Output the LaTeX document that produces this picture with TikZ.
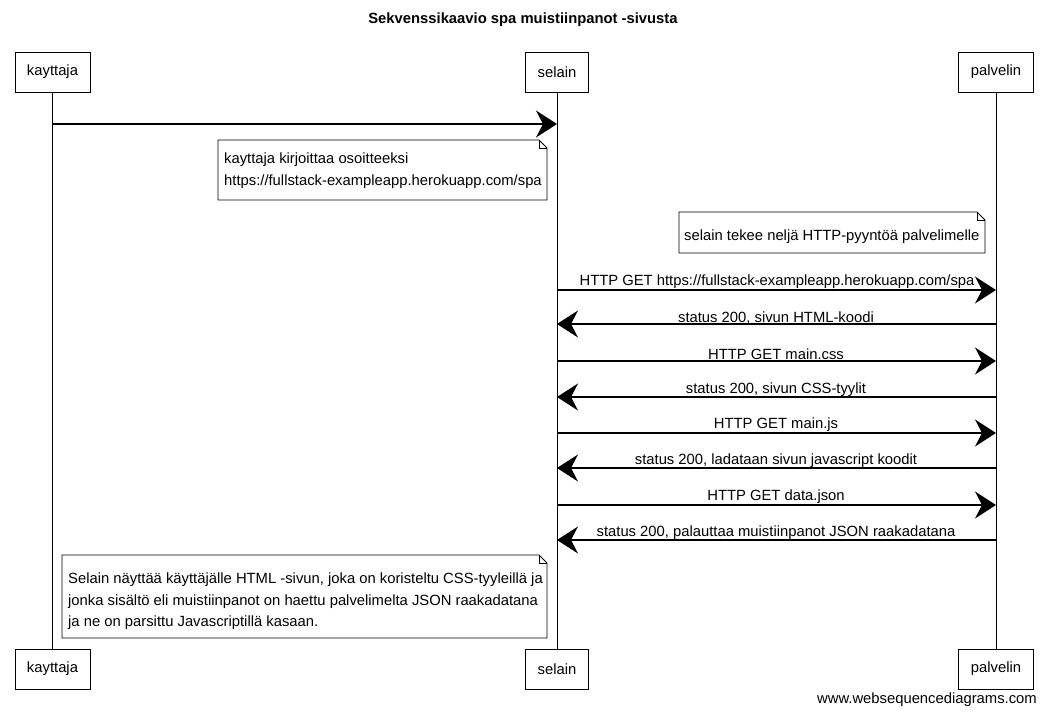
\documentclass[tikz,border=0pt]{standalone}
\usepackage{fontspec}
\setmainfont{Liberation Sans}
\usetikzlibrary{arrows.meta}
\tikzset{
  part/.style={draw, line width=0.9pt, fill=white, inner xsep=12pt, minimum height=40pt, font=\fontsize{14.8}{17}\selectfont},
  life/.style={line width=0.8pt},
  msg/.style={line width=1.3pt, -{Stealth[length=21pt, width=27pt, inset=7pt]}},
  lbl/.style={font=\fontsize{14.8}{17}\selectfont, inner sep=0pt},
  notetxt/.style={font=\fontsize{14.8}{21.5}\selectfont, inner sep=0pt, align=left, anchor=north west},
  notebox/.style={draw, line width=0.9pt, fill=white},
}
\begin{document}
\begin{tikzpicture}[x=1pt,y=-1pt]
\useasboundingbox (0,0) rectangle (1045,715);
% title
\node[lbl, font=\fontsize{14.8}{17}\selectfont\bfseries] (title) at (523,20) {Sekvenssikaavio spa muistiinpanot -sivusta};
% participants
\node[part] (kt) at (52.5,72) {kayttaja};
\node[part] (st) at (557,72) {selain};
\node[part] (pt) at (996,72) {palvelin};
\node[part] (kb) at (52.5,669) {kayttaja};
\node[part] (sb) at (557,669) {selain};
\node[part] (pb) at (996,669) {palvelin};
% lifelines
\draw[life] (kt) -- (kb);
\draw[life] (st) -- (sb);
\draw[life] (pt) -- (pb);
% message endpoints
\foreach \n/\y in {1/124,2/290,3/324,4/361,5/397,6/433,7/468,8/505,9/540}{
  \coordinate (k\n) at (52.5,\y);
  \coordinate (s\n) at (557,\y);
  \coordinate (p\n) at (996,\y);
}
\draw[msg] (k1) -- (s1);
% note 1
\draw[notebox] (218,140) -- (539,140) -- (547,148) -- (547,200) -- (218,200) -- cycle;
\draw[line width=0.6pt] (539,140) -- (539,148) -- (547,148);
\node[notetxt] (n1) at (224,153) {kayttaja kirjoittaa osoitteeksi\\https://fullstack-exampleapp.herokuapp.com/spa};
% note 2
\draw[notebox] (679,212) -- (977,212) -- (985,220) -- (985,253) -- (679,253) -- cycle;
\draw[line width=0.6pt] (977,212) -- (977,220) -- (985,220);
\node[notetxt] (n2) at (684,230) {selain tekee neljä HTTP-pyyntöä palvelimelle};
% messages
\draw[msg] (s2) -- (p2);
\node[lbl] (l2) at (777,282) {HTTP GET https://fullstack-exampleapp.herokuapp.com/spa};
\draw[msg] (p3) -- (s3);
\node[lbl] (l3) at (776,318) {status 200, sivun HTML-koodi};
\draw[msg] (s4) -- (p4);
\node[lbl] (l4) at (776,354) {HTTP GET main.css};
\draw[msg] (p5) -- (s5);
\node[lbl] (l5) at (776,390) {status 200, sivun CSS-tyylit};
\draw[msg] (s6) -- (p6);
\node[lbl] (l6) at (776,425) {HTTP GET main.js};
\draw[msg] (p7) -- (s7);
\node[lbl] (l7) at (776,461) {status 200, ladataan sivun javascript koodit};
\draw[msg] (s8) -- (p8);
\node[lbl] (l8) at (776,497) {HTTP GET data.json};
\draw[msg] (p9) -- (s9);
\node[lbl] (l9) at (776,533) {status 200, palauttaa muistiinpanot JSON raakadatana};
% note 3
\draw[notebox] (62,555) -- (539,555) -- (547,563) -- (547,638) -- (62,638) -- cycle;
\draw[line width=0.6pt] (539,555) -- (539,563) -- (547,563);
\node[notetxt] (n3) at (68,573) {Selain näyttää käyttäjälle HTML -sivun, joka on koristeltu CSS-tyyleillä ja\\jonka sisältö eli muistiinpanot on haettu palvelimelta JSON raakadatana\\ja ne on parsittu Javascriptillä kasaan.};
% footer
\node[lbl, anchor=east] (foot) at (1037,700) {www.websequencediagrams.com};
\end{tikzpicture}
\end{document}
